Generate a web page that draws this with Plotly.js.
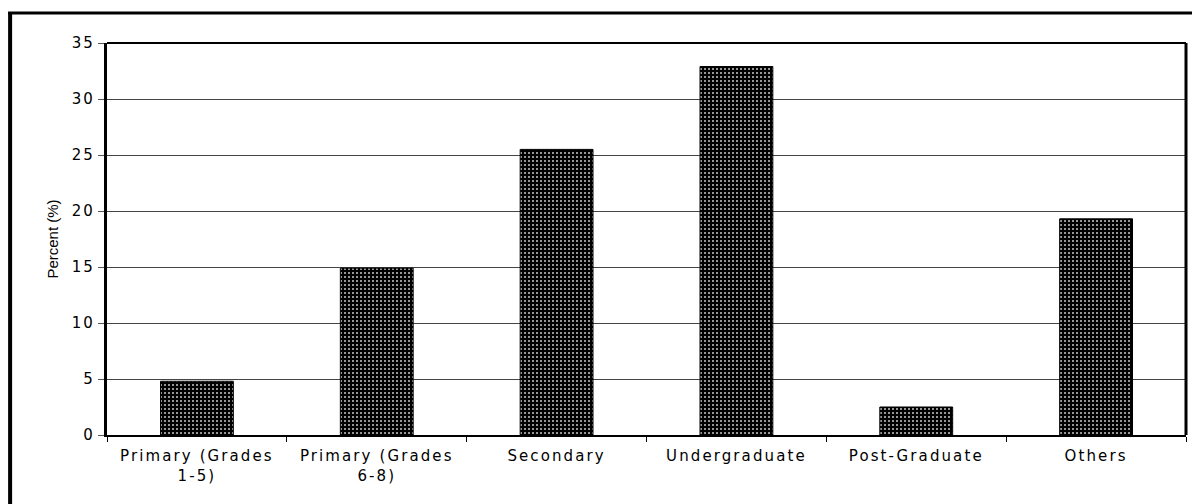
<!DOCTYPE html>
<html>
<head>
<meta charset="utf-8">
<script src="https://cdn.plot.ly/plotly-3.0.1.min.js"></script>
<style>
  html, body { margin: 0; padding: 0; background: #fff; }
  #chart { width: 1192px; height: 504px; }
  /* wide, airy tick lettering */
  #chart .xtick text, #chart .ytick text { letter-spacing: 2.1px; }
</style>
</head>
<body>
<div id="chart"></div>
<script>
// Education level distribution (percent of respondents)
const categories = [
  'Primary (Grades<br>1-5)',
  'Primary (Grades<br>6-8)',
  'Secondary',
  'Undergraduate',
  'Post-Graduate',
  'Others'
];
const percents = [4.8, 14.9, 25.5, 32.9, 2.5, 19.3];
const yTicks = [0, 5, 10, 15, 20, 25, 30, 35];

const tickFont = { family: 'DejaVu Sans, Verdana, sans-serif', size: 15, color: '#000' };

const trace = {
  type: 'bar',
  x: categories,
  y: percents,
  marker: {
    color: '#000',
    line: { color: '#000', width: 1 },
    pattern: { shape: '.', size: 4, solidity: 0.17, fgcolor: '#d8d8d8', bgcolor: '#000', fillmode: 'replace' }
  },
  hoverinfo: 'x+y'
};

const layout = {
  width: 1192,
  height: 504,
  margin: { l: 107, r: 6, t: 43, b: 69 },
  paper_bgcolor: '#fff',
  plot_bgcolor: '#fff',
  bargap: 0.595,
  showlegend: false,
  xaxis: {
    type: 'category',
    tickson: 'boundaries',
    ticks: 'outside',
    ticklen: 5,
    tickwidth: 1,
    tickcolor: '#000',
    ticklabelstandoff: 6,
    showline: true,
    linecolor: '#000',
    linewidth: 2,
    mirror: false,
    showgrid: false,
    tickfont: tickFont,
    fixedrange: true
  },
  yaxis: {
    range: [0, 35],
    tickvals: yTicks,
    ticktext: yTicks.map(String),
    ticks: 'outside',
    ticklen: 6,
    tickwidth: 1,
    tickcolor: '#555',
    showline: true,
    linecolor: '#000',
    linewidth: 3,
    showgrid: true,
    gridcolor: '#444',
    gridwidth: 1,
    zeroline: false,
    tickfont: tickFont,
    title: {
      text: 'Percent (%)',
      font: { family: 'Liberation Sans Narrow, Arial Narrow, sans-serif', size: 15, color: '#000' },
      standoff: 14
    },
    fixedrange: true
  },
  shapes: [
    // plot area border: top and right edges
    { type: 'line', xref: 'paper', yref: 'paper', x0: 0, x1: 1, y0: 1, y1: 1, line: { color: '#000', width: 2 } },
    { type: 'line', xref: 'paper', yref: 'paper', x0: 1, x1: 1, y0: 0, y1: 1, line: { color: '#000', width: 3 } },
    // outer frame around the figure
    { type: 'line', xref: 'paper', yref: 'paper', x0: -0.0898, x1: -0.0898, y0: -0.3, y1: 1.077, line: { color: '#000', width: 4 } },
    { type: 'line', xref: 'paper', yref: 'paper', x0: -0.0917, x1: 1.1, y0: 1.0765, y1: 1.0765, line: { color: '#000', width: 3 } }
  ]
};

Plotly.newPlot('chart', [trace], layout, { staticPlot: true, displayModeBar: false });
</script>
</body>
</html>
